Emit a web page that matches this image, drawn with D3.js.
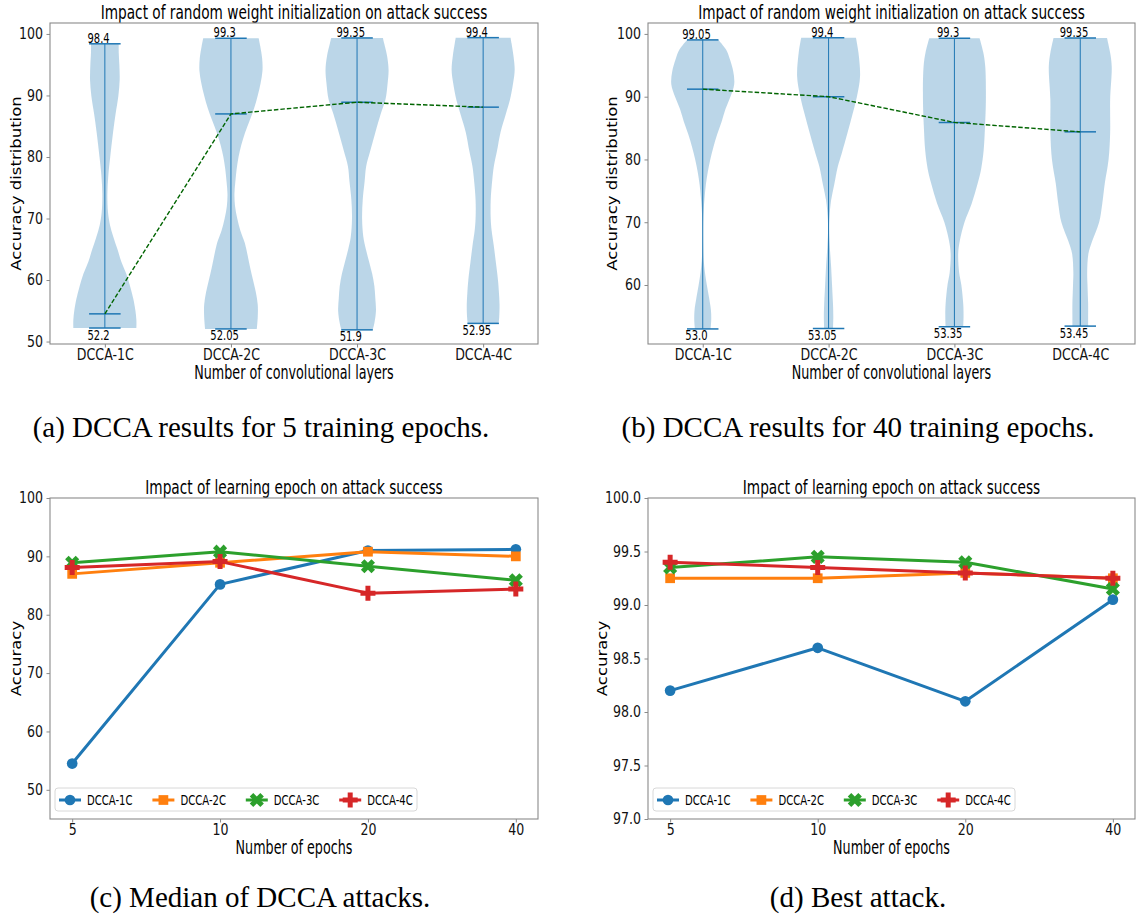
<!DOCTYPE html>
<html><head><meta charset="utf-8">
<script src="https://cdn.jsdelivr.net/npm/d3@7"></script>
<style>
html,body{margin:0;padding:0;background:#fff;}
svg{display:block;}
</style></head>
<body>
<svg id="fig" width="1136" height="915"></svg>
<script>
// ---------------- data ----------------
const layers = ["DCCA-1C", "DCCA-2C", "DCCA-3C", "DCCA-4C"];
const epochs = ["5", "10", "20", "40"];

// median accuracy of each model per training-epoch setting
const median1C = [54.5, 85.2, 91.0, 91.2];
const median2C = [87.0, 88.9, 90.8, 90.0];
const median3C = [88.9, 90.8, 88.3, 85.9];
const median4C = [88.1, 89.1, 83.7, 84.4];

// best attack accuracy per training-epoch setting
const best1C = [98.2, 98.6, 98.1, 99.05];
const best2C = [99.25, 99.25, 99.3, 99.25];
const best3C = [99.35, 99.45, 99.4, 99.15];
const best4C = [99.4, 99.35, 99.3, 99.25];

// extremes of the accuracy distributions (5 and 40 epochs)
const max5 = [98.4, 99.3, 99.35, 99.4];
const min5 = [52.2, 52.05, 51.9, 52.95];
const max40 = [99.05, 99.4, 99.3, 99.35];
const min40 = [53.0, 53.05, 53.35, 53.45];

// density outlines: [accuracy, relative density]
const dens5_1C = [[52.2,1.0],[53.5,1.0],[55,0.97],[57,0.9],[59,0.8],[61,0.68],[63,0.52],[65,0.4],[67,0.27],[69,0.16],[71,0.1],[74,0.08],[77,0.11],[80,0.17],[84,0.26],[87,0.34],[90,0.43],[92.5,0.47],[95,0.46],[97,0.44],[98.4,0.44]];
const dens5_2C = [[52.05,0.82],[54,0.85],[56,0.85],[58,0.79],[60,0.7],[62,0.61],[64,0.53],[66,0.44],[68,0.3],[70,0.2],[72,0.13],[74,0.11],[76,0.14],[78,0.18],[80,0.24],[82,0.33],[84,0.45],[86,0.6],[88,0.74],[90,0.85],[92,0.94],[94,1.0],[96,0.99],[98,0.93],[99.3,0.88]];
const dens5_3C = [[51.9,0.5],[53,0.55],[55,0.6],[57,0.58],[59,0.55],[61,0.48],[63,0.38],[65,0.28],[67,0.2],[70,0.16],[73,0.18],[76,0.24],[78.5,0.29],[81,0.42],[84,0.58],[87,0.75],[89.3,0.9],[92,0.97],[94.2,1.0],[96.5,0.95],[98.5,0.86],[99.35,0.82]];
const dens5_4C = [[52.95,0.49],[54,0.51],[56,0.52],[58,0.5],[60,0.47],[63,0.4],[65.5,0.34],[68,0.27],[70,0.24],[73,0.24],[76.3,0.29],[78.5,0.34],[81,0.44],[84,0.55],[87,0.72],[89.3,0.85],[92,0.95],[94.2,1.0],[96.5,0.96],[98.5,0.9],[99.4,0.87]];

const dens40_1C = [[53.0,0.25],[54.5,0.27],[56,0.26],[58,0.2],[60,0.13],[62,0.07],[64,0.03],[66,0.015],[68,0.01],[70,0.012],[72,0.03],[74,0.06],[76,0.1],[78,0.16],[80,0.24],[82,0.34],[84,0.46],[86,0.6],[88,0.72],[90,0.88],[92,1.0],[94,0.97],[96,0.86],[97.5,0.74],[99.05,0.5]];
const dens40_2C = [[53.05,0.14],[55,0.15],[57,0.14],[60,0.11],[63,0.08],[66,0.04],[69,0.015],[71,0.03],[73.5,0.08],[76,0.18],[78.8,0.29],[81,0.42],[84.2,0.6],[87,0.75],[90,0.9],[93.2,1.0],[97,0.95],[99.4,0.87]];
const dens40_3C = [[53.35,0.28],[55,0.29],[57,0.28],[60,0.22],[62,0.15],[65,0.12],[67,0.17],[70,0.32],[73,0.55],[76.2,0.74],[78.5,0.85],[81.5,0.93],[85,0.97],[89.5,1.0],[94.8,0.98],[97,0.92],[99.3,0.8]];
const dens40_4C = [[53.45,0.25],[55,0.25],[57,0.25],[60,0.23],[62,0.22],[65,0.26],[67,0.38],[70,0.6],[73,0.7],[76.2,0.78],[80,0.9],[84.2,0.95],[89.5,0.95],[94.8,1.0],[97,0.95],[99.35,0.85]];

const yTicksViolin5 = [50, 60, 70, 80, 90, 100];
const yTicksViolin40 = [60, 70, 80, 90, 100];
const yTicksMedian = [50, 60, 70, 80, 90, 100];
const yTicksBest = [97.0, 97.5, 98.0, 98.5, 99.0, 99.5, 100.0];

// ---------------- drawing ----------------
const svg = d3.select("#fig");
const SANS = "'DejaVu Sans', sans-serif";
const SERIF = "'Liberation Serif', 'DejaVu Serif', serif";
const SPINE = "#8a8a8a";
const C0 = "#1f77b4";
const palette = ["#1f77b4", "#ff7f0e", "#2ca02c", "#d62728"];

function txt(g, x, y, str, o) {
  let tr = `translate(${x},${y}) scale(${o.sx || 1},1)`;
  if (o.rotate) tr += ` rotate(${o.rotate})`;
  return g.append("text")
    .attr("transform", tr)
    .attr("text-anchor", o.anchor || "middle")
    .attr("font-family", o.family || SANS)
    .attr("font-size", o.size)
    .attr("fill", o.fill || "#000")
    .text(str);
}

function axes(g, box, x, y, o) {
  const TSX = 0.84;
  const ya = d3.axisLeft(y).tickValues(o.yTicks).tickSize(3.5).tickPadding(3.5)
    .tickFormat(o.yFmt || d3.format("d"));
  const yg = g.append("g").attr("transform", `translate(${box.x0},0)`).call(ya);
  const xa = d3.axisBottom(x).tickValues(o.xVals).tickSize(3.5).tickPadding(3.5)
    .tickFormat((d, i) => o.xLabels[i]);
  const xg = g.append("g").attr("transform", `translate(0,${box.y1})`).call(xa);
  [yg, xg].forEach(a => {
    a.select(".domain").remove();
    a.selectAll(".tick line").attr("stroke", SPINE).attr("stroke-width", 1);
    a.selectAll(".tick text").attr("font-family", SANS).attr("font-size", 15).attr("fill", "#111");
  });
  yg.selectAll(".tick text").attr("x", -7 / TSX).attr("transform", `scale(${TSX},1)`);
  xg.selectAll(".tick text").attr("y", 5.5).attr("transform", `scale(${TSX},1)`);
  // titles and labels
  const cx = (box.x0 + box.x1) / 2, cy = (box.y0 + box.y1) / 2;
  txt(g, cx, box.y0 - 4, o.title, {size: 20, sx: 0.684});
  txt(g, cx, box.y1 + 35, o.xTitle, {size: 19, sx: 0.67});
  txt(g, o.yLabelX, cy, o.yTitle, {size: 16.5, sx: 0.86, rotate: -90});
}

function frame(g, box) {
  g.append("rect").attr("x", box.x0).attr("y", box.y0)
    .attr("width", box.x1 - box.x0).attr("height", box.y1 - box.y0)
    .attr("fill", "none").attr("stroke", SPINE).attr("stroke-width", 1.1);
}

function violinPanel(box, yDom, shapes, maxV, minV, medV, yTicks, yLabelX) {
  const g = svg.append("g");
  const x = d3.scaleLinear().domain([0.565, 4.435]).range([box.x0, box.x1]);
  const y = d3.scaleLinear().domain(yDom).range([box.y1, box.y0]);
  const half = 0.25, cap = 0.125;
  shapes.forEach((s, i) => {
    const p = i + 1;
    const area = d3.area().curve(d3.curveCatmullRom)
      .y(d => y(d[0]))
      .x0(d => x(p - half * d[1]))
      .x1(d => x(p + half * d[1]));
    g.append("path").attr("d", area(s)).attr("fill", C0).attr("fill-opacity", 0.3);
  });
  layers.forEach((l, i) => {
    const p = i + 1;
    g.append("line").attr("x1", x(p)).attr("x2", x(p)).attr("y1", y(minV[i])).attr("y2", y(maxV[i]))
      .attr("stroke", C0).attr("stroke-width", 1);
    [maxV[i], minV[i], medV[i]].forEach(v => {
      g.append("line").attr("x1", x(p - cap)).attr("x2", x(p + cap)).attr("y1", y(v)).attr("y2", y(v))
        .attr("stroke", C0).attr("stroke-width", 1.5);
    });
  });
  // dashed trend through the medians
  const line = d3.line().x((d, i) => x(i + 1)).y(d => y(d));
  g.append("path").attr("d", line(medV)).attr("fill", "none")
    .attr("stroke", "#006400").attr("stroke-width", 1.4).attr("stroke-dasharray", "4.5,2");
  // extreme value labels
  const fmt = v => Number.isInteger(v) ? v.toFixed(1) : String(v);
  layers.forEach((l, i) => {
    const p = i + 1;
    txt(g, x(p - 0.05), y(maxV[i]) - 1, fmt(maxV[i]), {size: 13.5, sx: 0.74});
    txt(g, x(p - 0.05), y(minV[i]) + 11.5, fmt(minV[i]), {size: 13.5, sx: 0.74});
  });
  axes(g, box, x, y, {
    yTicks, xVals: [1, 2, 3, 4], xLabels: layers,
    title: "Impact of random weight initialization on attack success",
    xTitle: "Number of convolutional layers", yTitle: "Accuracy distribution", yLabelX
  });
  frame(g, box);
}

function markerPath(kind, size) {
  if (kind === "o") return d3.symbol(d3.symbolCircle, size)();
  if (kind === "s") return d3.symbol(d3.symbolSquare, size)();
  return d3.symbol(d3.symbolCross, size)();
}
const markerKinds = ["o", "s", "X", "P"];
const markerSizes = [90, 95, 125, 125];

function drawMarker(g, kind, size, cx, cy, color) {
  g.append("path").attr("d", markerPath(kind, size))
    .attr("transform", `translate(${cx},${cy})` + (kind === "X" ? " rotate(45)" : ""))
    .attr("fill", color);
}

function linePanel(box, yDom, series, yTicks, yFmt, yLabelX) {
  const g = svg.append("g");
  const x = d3.scaleLinear().domain([-0.15, 3.15]).range([box.x0, box.x1]);
  const y = d3.scaleLinear().domain(yDom).range([box.y1, box.y0]);
  const line = d3.line().x((d, i) => x(i)).y(d => y(d));
  series.forEach((s, k) => {
    g.append("path").attr("d", line(s)).attr("fill", "none")
      .attr("stroke", palette[k]).attr("stroke-width", 3).attr("stroke-linejoin", "round");
    s.forEach((v, i) => drawMarker(g, markerKinds[k], markerSizes[k], x(i), y(v), palette[k]));
  });
  // legend
  const lg = g.append("g");
  const lx = box.x0 + 5, ly = box.y1 - 31, step = 93.4;
  lg.append("rect").attr("x", lx).attr("y", ly).attr("width", 362).attr("height", 23).attr("rx", 3)
    .attr("fill", "#fff").attr("fill-opacity", 0.8).attr("stroke", "#d8d8d8");
  layers.forEach((l, k) => {
    const hx = lx + 4 + k * step, hy = ly + 12;
    lg.append("line").attr("x1", hx).attr("x2", hx + 22).attr("y1", hy).attr("y2", hy)
      .attr("stroke", palette[k]).attr("stroke-width", 3);
    drawMarker(lg, markerKinds[k], markerSizes[k], hx + 11, hy, palette[k]);
    txt(lg, hx + 28, hy + 5, l, {size: 14, sx: 0.72, anchor: "start"});
  });
  axes(g, box, x, y, {
    yTicks, yFmt, xVals: [0, 1, 2, 3], xLabels: epochs,
    title: "Impact of learning epoch on attack success",
    xTitle: "Number of epochs", yTitle: "Accuracy", yLabelX
  });
  frame(g, box);
}

const boxA = {x0: 50, x1: 538, y0: 23, y1: 344};
const boxB = {x0: 648, x1: 1135, y0: 23, y1: 344};
const boxC = {x0: 50, x1: 538, y0: 498, y1: 819};
const boxD = {x0: 648, x1: 1135, y0: 498, y1: 819};

const med5 = [median1C[0], median2C[0], median3C[0], median4C[0]];
const med40 = [median1C[3], median2C[3], median3C[3], median4C[3]];

violinPanel(boxA, [49.6, 101.78], [dens5_1C, dens5_2C, dens5_3C, dens5_4C], max5, min5, med5, yTicksViolin5, 21);
violinPanel(boxB, [50.6, 101.74], [dens40_1C, dens40_2C, dens40_3C, dens40_4C], max40, min40, med40, yTicksViolin40, 617);
linePanel(boxC, [45, 100], [median1C, median2C, median3C, median4C], yTicksMedian, d3.format("d"), 21);
linePanel(boxD, [97, 100], [best1C, best2C, best3C, best4C], yTicksBest, d3.format(".1f"), 607);

// sub-figure captions
const cap = svg.append("g");
txt(cap, 261, 437, "(a) DCCA results for 5 training epochs.", {size: 29, family: SERIF});
txt(cap, 858, 437, "(b) DCCA results for 40 training epochs.", {size: 29, family: SERIF});
txt(cap, 260, 907, "(c) Median of DCCA attacks.", {size: 29, family: SERIF});
txt(cap, 858, 907, "(d) Best attack.", {size: 29, family: SERIF});
</script>
</body></html>
